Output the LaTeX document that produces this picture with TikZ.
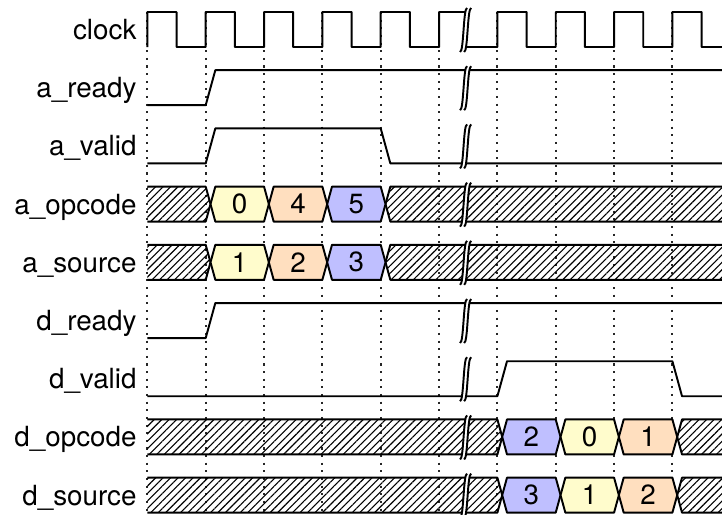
\documentclass[tikz,border=0pt]{standalone}
\usepackage{fontspec}
\setsansfont{TeX Gyre Heros}
\usetikzlibrary{patterns.meta}
\newcommand\brkpos{10.93}

\begin{document}
\begin{tikzpicture}[x=10.5pt, y=-0.36pt, font=\sffamily]
  \tikzset{wave/.style={line width=0.7pt, line join=round}}
  \tikzset{tick/.style={dotted, line width=0.75pt, black!85}}
  \tikzset{hatch/.style={pattern={Lines[angle=45, distance=1.9pt, line width=0.4pt]}}}
  \tikzset{signame/.style={anchor=base east, inner sep=0pt}}
  \useasboundingbox (-5.052,0) rectangle (19.7,514);
  \foreach \t in {0,2,...,18} \draw[tick] (\t,12) -- (\t,514);
  \node[signame] (clock)   at (-0.353,39.5)  {clock};
  \node[signame] (aready)  at (-0.353,97.7)  {a\_ready};
  \node[signame] (avalid)  at (-0.353,155.9) {a\_valid};
  \node[signame] (aopcode) at (-0.353,214.1) {a\_opcode};
  \node[signame] (asource) at (-0.353,272.3) {a\_source};
  \node[signame] (dready)  at (-0.353,330.5) {d\_ready};
  \node[signame] (dvalid)  at (-0.353,388.7) {d\_valid};
  \node[signame] (dopcode) at (-0.353,446.9) {d\_opcode};
  \node[signame] (dsource) at (-0.353,505.1) {d\_source};
  \draw[wave] (0,47) \foreach \k in {0,2,4,6,8} {-- (\k,12) -- (\k+1,12) -- (\k+1,47) -- (\k+2,47)}
    -- (10,12) -- (\brkpos+0.06,12) -- (\brkpos-0.1,47)
    \foreach \k in {12,14,16,18} {-- (\k,47) -- (\k,12) -- (\k+1,12) -- (\k+1,47)} -- (20,47);
  \draw[wave] (0,105.2) -- (2,105.2) -- (2.33,70.2) -- (20,70.2);
  \draw[wave] (0,163.4) -- (2,163.4) -- (2.33,128.4) -- (8,128.4) -- (8.33,163.4) -- (20,163.4);
  \draw[wave] (0,338) -- (2,338) -- (2.33,303) -- (20,303);
  \draw[wave] (0,396.2) -- (12,396.2) -- (12.33,361.2) -- (18,361.2) -- (18.33,396.2) -- (20,396.2);
  \foreach \nm/\T/\st/\va/\vb/\vc/\ca/\cb/\cc in {
      aop/186.6/2/0/4/5/yellow!20/orange!25/blue!25,
      asrc/244.8/2/1/2/3/yellow!20/orange!25/blue!25,
      dop/419.4/12/2/0/1/blue!25/yellow!20/orange!25,
      dsrc/477.6/12/3/1/2/blue!25/yellow!20/orange!25} {
    \pgfmathsetmacro\B{\T+35}
    \pgfmathsetmacro\M{\T+17.5}
    \pgfmathsetmacro\en{\st+6}
    \fill[hatch] (0,\T) -- (\st,\T) -- (\st+0.165,\M) -- (\st,\B) -- (0,\B) -- cycle;
    \draw[wave] (0,\T) -- (\st,\T) -- (\st+0.165,\M) -- (\st,\B) -- (0,\B);
    \filldraw[wave, hatch] (\en+0.165,\M) -- (\en+0.33,\T) -- (20,\T) -- (20,\B) -- (\en+0.33,\B) -- cycle;
    \foreach \v/\col [count=\i from 0] in {\va/\ca, \vb/\cb, \vc/\cc} {
      \pgfmathsetmacro\ta{\st+2*\i}
      \filldraw[wave, fill=\col] (\ta+0.165,\M) -- (\ta+0.33,\T) -- (\ta+2,\T) -- (\ta+2.165,\M)
        -- (\ta+2,\B) -- (\ta+0.33,\B) -- cycle;
      \node (\nm\i) at (\ta+1.165,\M) {\v};
    }
  }
  \foreach \r in {0,...,8} {
    \pgfmathsetmacro\T{12+58.2*\r}
    \pgfmathsetmacro\B{\T+35}
    \fill[white] (\brkpos-0.21,\B+5) .. controls (\brkpos-0.08,\B+5) and (\brkpos-0.10,\T-4) .. (\brkpos+0.03,\T-4)
      -- (\brkpos+0.17,\T-4) .. controls (\brkpos+0.04,\T-4) and (\brkpos+0.06,\B+5) .. (\brkpos-0.07,\B+5) -- cycle;
    \draw[wave] (\brkpos-0.21,\B+5) .. controls (\brkpos-0.08,\B+5) and (\brkpos-0.10,\T-4) .. (\brkpos+0.03,\T-4)
      (\brkpos-0.07,\B+5) .. controls (\brkpos+0.06,\B+5) and (\brkpos+0.04,\T-4) .. (\brkpos+0.17,\T-4);
  }
\end{tikzpicture}
\end{document}
